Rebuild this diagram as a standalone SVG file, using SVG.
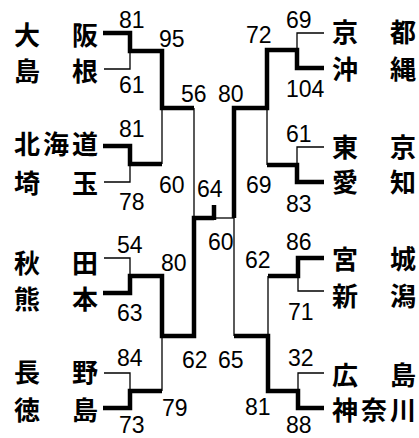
<svg xmlns="http://www.w3.org/2000/svg" width="419" height="438" viewBox="0 0 419 438">
<style>
.n{font-family:"Noto Sans CJK JP","Noto Sans CJK SC",sans-serif;font-size:26px;font-weight:bold;fill:#000}
.s{font-family:"Liberation Sans",Arial,sans-serif;font-size:23px;fill:#000}
.t{fill:none;stroke:#000;stroke-width:1.3}
.k{fill:none;stroke:#000;stroke-width:4.5;stroke-linejoin:miter}
</style>
<rect width="419" height="438" fill="#fff"/>
<g id="connectors">
<path class="t" d="M104,69 H130 V51"/>
<path class="t" d="M104,182 H130 V164"/>
<path class="t" d="M162,108 V164"/>
<path class="t" d="M104,258 H130 V276"/>
<path class="t" d="M104,373 H130 V391"/>
<path class="t" d="M162,336 V391"/>
<path class="t" d="M194,108 V218"/>
<path class="t" d="M324,33 H297 V50"/>
<path class="t" d="M324,147 H297 V165"/>
<path class="t" d="M267,108 V165"/>
<path class="t" d="M324,291 H298 V276"/>
<path class="t" d="M268,276 V336"/>
<path class="t" d="M324,373 H298 V391"/>
<path class="t" d="M234,218 V336"/>
<path class="t" d="M214,218 H234"/>
<path class="k" d="M103,33 H130 V51 H162 V108 H194"/>
<path class="k" d="M103,146 H130 V164 H162"/>
<path class="k" d="M103,293 H130 V276 H162 V336 H194 V218 H214"/>
<path class="k" d="M214,220 V205"/>
<path class="k" d="M103,408 H130 V391 H162"/>
<path class="k" d="M324,68 H297 V50 H267 V108 H234 V218"/>
<path class="k" d="M324,182 H297 V165 H267"/>
<path class="k" d="M324,258 H298 V276 H268"/>
<path class="k" d="M324,408 H298 V391 H268 V336 H234"/>
</g>
<g id="teams-left">
<text id="osaka" class="n" x="14" y="45" textLength="84" lengthAdjust="spacing">大　阪</text>
<text id="shimane" class="n" x="14" y="81" textLength="84" lengthAdjust="spacing">島　根</text>
<text id="hokkaido" class="n" x="14" y="154" textLength="84" lengthAdjust="spacing">北海道</text>
<text id="saitama" class="n" x="14" y="193" textLength="84" lengthAdjust="spacing">埼　玉</text>
<text id="akita" class="n" x="14" y="273" textLength="84" lengthAdjust="spacing">秋　田</text>
<text id="kumamoto" class="n" x="14" y="309" textLength="84" lengthAdjust="spacing">熊　本</text>
<text id="nagano" class="n" x="14" y="382" textLength="84" lengthAdjust="spacing">長　野</text>
<text id="tokushima" class="n" x="14" y="420" textLength="84" lengthAdjust="spacing">徳　島</text>
</g>
<g id="teams-right">
<text id="kyoto" class="n" x="332" y="42" textLength="84" lengthAdjust="spacing">京　都</text>
<text id="okinawa" class="n" x="332" y="79" textLength="84" lengthAdjust="spacing">沖　縄</text>
<text id="tokyo" class="n" x="332" y="157" textLength="84" lengthAdjust="spacing">東　京</text>
<text id="aichi" class="n" x="332" y="192" textLength="84" lengthAdjust="spacing">愛　知</text>
<text id="miyagi" class="n" x="332" y="269" textLength="84" lengthAdjust="spacing">宮　城</text>
<text id="niigata" class="n" x="332" y="306" textLength="84" lengthAdjust="spacing">新　潟</text>
<text id="hiroshima" class="n" x="332" y="385" textLength="84" lengthAdjust="spacing">広　島</text>
<text id="kanagawa" class="n" x="332" y="420" textLength="84" lengthAdjust="spacing">神奈川</text>
</g>
<g id="scores">
<text class="s" x="119" y="28">81</text>
<text class="s" x="119" y="93">61</text>
<text class="s" x="159" y="47">95</text>
<text class="s" x="181" y="102">56</text>
<text class="s" x="119" y="137">81</text>
<text class="s" x="119" y="210">78</text>
<text class="s" x="159" y="193">60</text>
<text class="s" x="197" y="197">64</text>
<text class="s" x="117" y="253">54</text>
<text class="s" x="161" y="271">80</text>
<text class="s" x="117" y="321">63</text>
<text class="s" x="182" y="368">62</text>
<text class="s" x="117" y="366">84</text>
<text class="s" x="162" y="416">79</text>
<text class="s" x="119" y="433">73</text>
<text class="s" x="286" y="28">69</text>
<text class="s" x="246" y="43">72</text>
<text class="s" x="286" y="97">104</text>
<text class="s" x="218" y="102">80</text>
<text class="s" x="286" y="142">61</text>
<text class="s" x="246" y="193">69</text>
<text class="s" x="286" y="212">83</text>
<text class="s" x="208" y="250">60</text>
<text class="s" x="286" y="250">86</text>
<text class="s" x="245" y="268">62</text>
<text class="s" x="288" y="320">71</text>
<text class="s" x="218" y="368">65</text>
<text class="s" x="288" y="366">32</text>
<text class="s" x="245" y="415">81</text>
<text class="s" x="286" y="433">88</text>
</g>
</svg>
